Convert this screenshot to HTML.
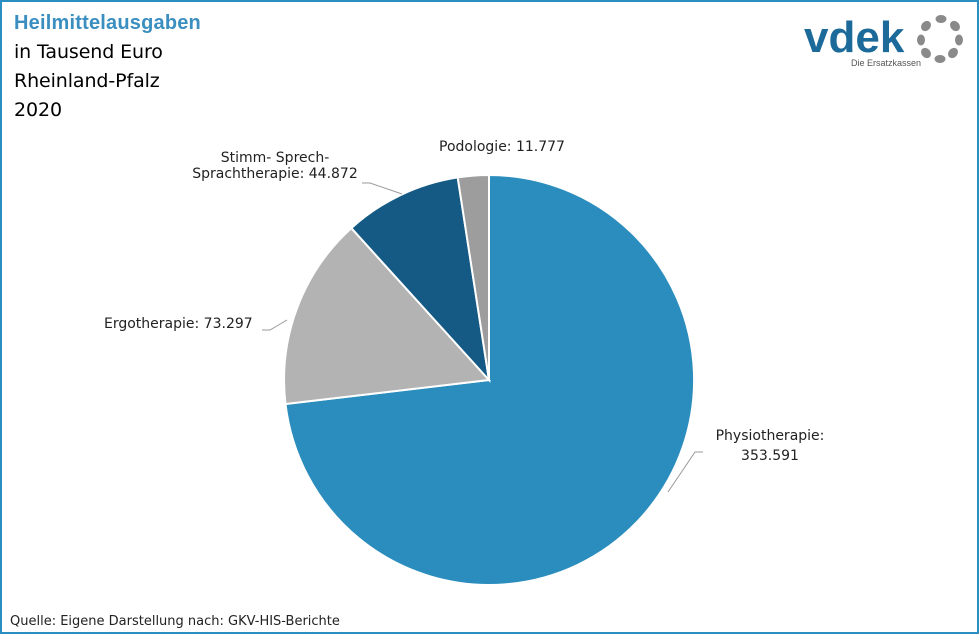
<!DOCTYPE html>
<html><head><meta charset="utf-8"><style>
body{margin:0;width:979px;height:634px;overflow:hidden;background:#fff;font-family:"DejaVu Sans","Liberation Sans",sans-serif}
.f{position:absolute;left:0;top:0;width:975px;height:630px;border:2px solid #2a8fc0;background:#fff}
.t{position:absolute;left:14px;font-size:19px;color:#000;letter-spacing:-0.1px}
.l{position:absolute;font-size:14px;color:#222;letter-spacing:0px}
</style></head><body>
<div class="f"></div>
<div class="t" style="top:12px;color:#3a8ec0;font-weight:bold;font-family:'Liberation Sans',sans-serif;font-size:20px;letter-spacing:0.2px">Heilmittelausgaben</div>
<div class="t" style="top:41px">in Tausend Euro</div>
<div class="t" style="top:70px">Rheinland-Pfalz</div>
<div class="t" style="top:99px">2020</div>
<svg style="position:absolute;left:0;top:0" width="979" height="634">
<path d="M489,380 L489,175 A205,205 0 1 1 285.5,404 Z" fill="#2a8dbd" stroke="#fff" stroke-width="2"/>
<path d="M489,380 L285.5,404 A205,205 0 0 1 351.3,228.1 Z" fill="#b3b3b3" stroke="#fff" stroke-width="2"/>
<path d="M489,380 L351.3,228.1 A205,205 0 0 1 457.7,177.4 Z" fill="#155a85" stroke="#fff" stroke-width="2"/>
<path d="M489,380 L457.7,177.4 A205,205 0 0 1 489,175 Z" fill="#9d9d9d" stroke="#fff" stroke-width="2"/>
<polyline points="703,452 695,452 668,492" fill="none" stroke="#999" stroke-width="1"/>
<polyline points="262,330 270,330 287,320" fill="none" stroke="#999" stroke-width="1"/>
<polyline points="362,183 370,183 402,194" fill="none" stroke="#999" stroke-width="1"/>
<text x="804" y="52" font-family="Liberation Sans" font-weight="bold" font-size="44" fill="#1b6a9a" letter-spacing="0">vdek</text>
<text x="851" y="66" font-family="Liberation Sans" font-size="9" fill="#555">Die Ersatzkassen</text>
<g fill="#8a8a8a">
<ellipse cx="941" cy="19" rx="5.5" ry="4"/><ellipse cx="955" cy="26" rx="4.5" ry="5.5" transform="rotate(-40 955 26)"/>
<ellipse cx="959" cy="40" rx="4" ry="5.5"/><ellipse cx="953" cy="53" rx="4.5" ry="5.5" transform="rotate(40 953 53)"/>
<ellipse cx="940" cy="59" rx="5.5" ry="4"/><ellipse cx="926" cy="53" rx="4.5" ry="5.5" transform="rotate(-40 926 53)"/>
<ellipse cx="921" cy="40" rx="4" ry="5.5"/><ellipse cx="926" cy="26" rx="4.5" ry="5.5" transform="rotate(40 926 26)"/>
</g>
</svg>
<div class="l" style="left:439px;top:139px">Podologie: 11.777</div>
<div class="l" style="left:190px;top:150px;text-align:center;width:170px">Stimm- Sprech-<br>Sprachtherapie: 44.872</div>
<div class="l" style="left:104px;top:316px">Ergotherapie: 73.297</div>
<div class="l" style="left:712px;top:426px;text-align:center;width:116px;line-height:20px">Physiotherapie:<br>353.591</div>
<div class="l" style="left:10px;top:614px;font-size:13px">Quelle: Eigene Darstellung nach: GKV-HIS-Berichte</div>
</body></html>
